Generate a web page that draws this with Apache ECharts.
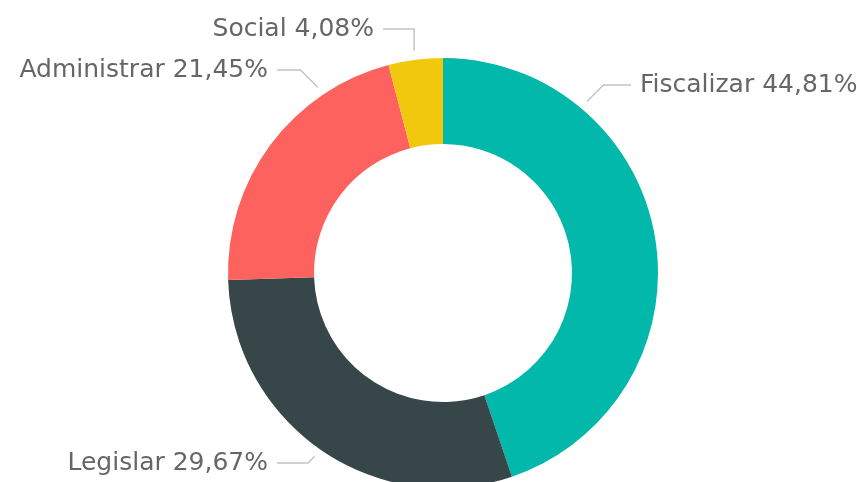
<!DOCTYPE html>
<html>
<head>
<meta charset="utf-8">
<script src="https://cdn.jsdelivr.net/npm/echarts@6/dist/echarts.min.js"></script>
<style>html,body{margin:0;padding:0;background:#fff}#c{width:857px;height:482px}</style>
</head>
<body>
<div id="c"></div>
<script>
// Data
const categories = ['Fiscalizar', 'Legislar', 'Administrar', 'Social'];
const values = [44.81, 29.67, 21.45, 4.08];
const colors = ['#01B8AA', '#374649', '#FD625E', '#F2C80F'];

// Label layout (annotation placement, not data)
const CX = 443, CY = 273, R_IN = 129, R_OUT = 215;
const labelAnchorAngle = [40, 215, 326, 352.6]; // degrees clockwise from top where leader line starts
const labelPos = [
  { x: 640, y: 85, align: 'left' },
  { x: 268, y: 463, align: 'right' },
  { x: 268, y: 70, align: 'right' },
  { x: 374, y: 29, align: 'right' }
];
const elbowMode = ['diag', 'diag', 'diag', 'vert'];

const chart = echarts.init(document.getElementById('c'));
chart.setOption({
  backgroundColor: '#ffffff',
  animation: false,
  series: [{
    type: 'pie',
    center: [CX, CY],
    radius: [R_IN, R_OUT],
    startAngle: 90,
    clockwise: true,
    avoidLabelOverlap: false,
    data: categories.map((n, i) => ({ name: n, value: values[i], itemStyle: { color: colors[i] } })),
    label: {
      show: true,
      formatter: p => p.name + ' ' + p.value.toFixed(2).replace('.', ',') + '%',
      fontFamily: 'DejaVu Sans',
      fontSize: 25,
      color: '#666666'
    },
    labelLine: { show: true, lineStyle: { color: '#c4c4c4', width: 1.5 } },
    labelLayout: function (params) {
      const i = params.dataIndex;
      const lp = labelPos[i];
      const a = labelAnchorAngle[i] * Math.PI / 180;
      const rs = R_OUT + 9;
      const sx = CX + rs * Math.sin(a), sy = CY - rs * Math.cos(a);
      let ex, ey = lp.y;
      const dir = lp.align === 'left' ? 1 : -1;
      if (elbowMode[i] === 'vert') {
        ex = sx;
      } else {
        ex = sx + dir * Math.abs(ey - sy);
      }
      const tx = lp.x - dir * 9;
      return {
        x: lp.x, y: lp.y, align: lp.align, verticalAlign: 'middle',
        labelLinePoints: [[sx, sy], [ex, ey], [tx, ey]]
      };
    },
    emphasis: { disabled: true }
  }]
});
</script>
</body>
</html>
